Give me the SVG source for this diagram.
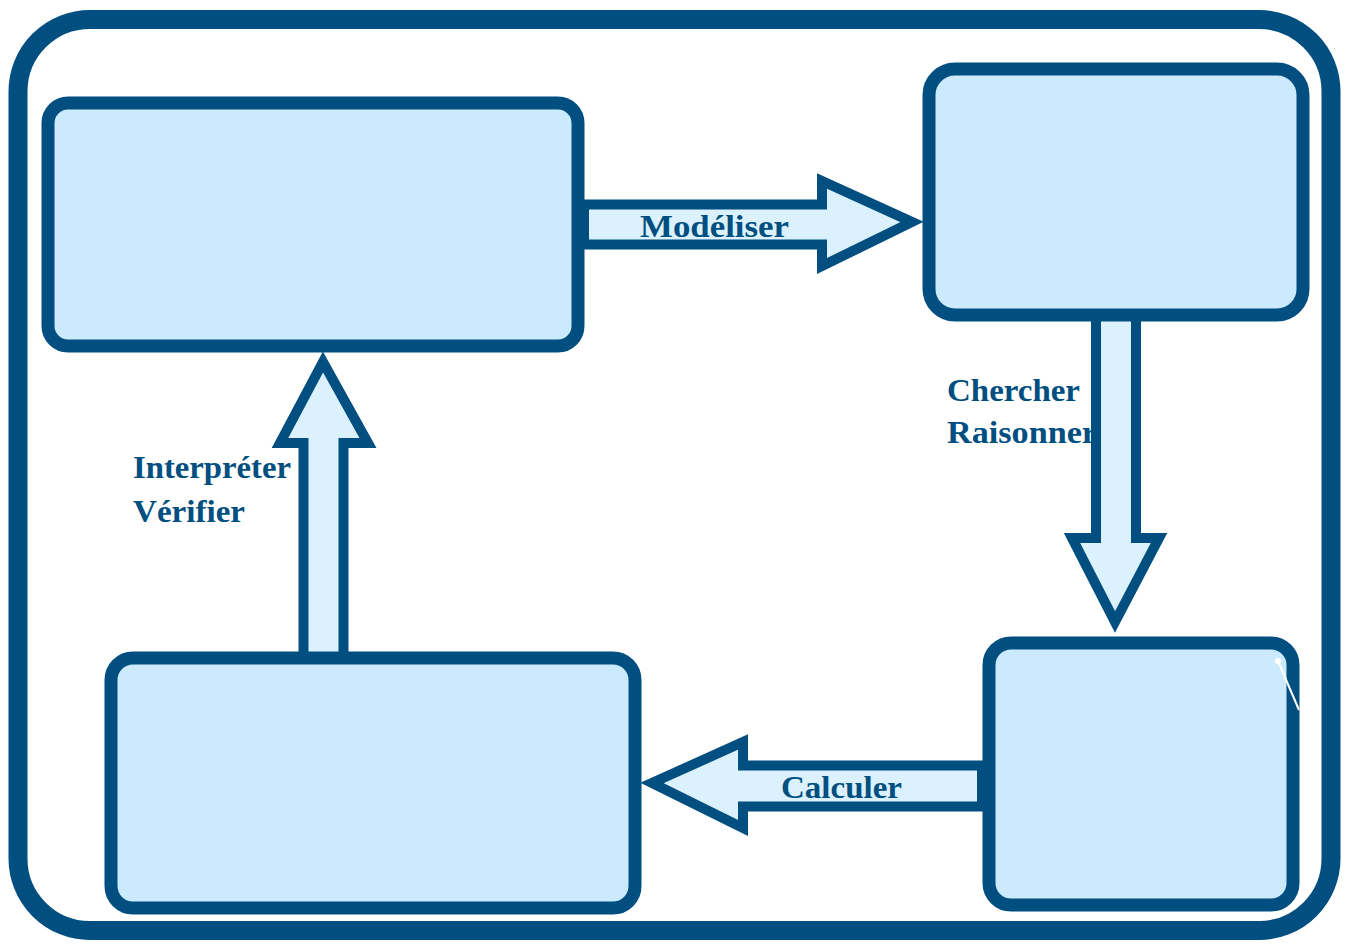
<svg xmlns="http://www.w3.org/2000/svg" width="1346" height="949" viewBox="0 0 1346 949">
<style>
.frame{fill:#ffffff;stroke:#004f80;stroke-width:19}
.node{fill:#cceafd;stroke:#004f80;stroke-width:13}
.arrow{fill:#dbf1fd;stroke:#004f80;stroke-width:10;stroke-linejoin:miter;stroke-miterlimit:10}
.lbl{font-family:"Liberation Serif","DejaVu Serif",serif;font-weight:bold;font-size:32px;fill:#004f80}
</style>
<rect class="frame" x="18" y="19.5" width="1313" height="911" rx="72" ry="72"/>
<g id="connectors">
<text class="lbl" x="947" y="401" textLength="133" lengthAdjust="spacingAndGlyphs">Chercher</text>
<text class="lbl" x="947" y="443" textLength="150" lengthAdjust="spacingAndGlyphs">Raisonner</text>
<text class="lbl" x="133" y="478" textLength="158" lengthAdjust="spacingAndGlyphs">Interpréter</text>
<text class="lbl" x="133" y="522" textLength="112" lengthAdjust="spacingAndGlyphs">Vérifier</text>
<polygon id="arrow-modeliser" class="arrow" points="584,204.5 822,204.5 822,181 912,222 822,266 822,244.5 584,244.5"/>
<polygon id="arrow-chercher" class="arrow" points="1096,315 1096,538 1072,538 1115,622 1159,538 1136,538 1136,315"/>
<polygon id="arrow-calculer" class="arrow" points="982,765.5 743,765.5 743,742 652,783 743,828 743,806.5 982,806.5"/>
<polygon id="arrow-interpreter" class="arrow" points="303.5,658 303.5,443 280,443 323,362 368,443 343.5,443 343.5,658"/>
<text class="lbl" x="640" y="237" textLength="149" lengthAdjust="spacingAndGlyphs">Modéliser</text>
<text class="lbl" x="781" y="798" textLength="121" lengthAdjust="spacingAndGlyphs">Calculer</text>
</g>
<g id="node-top-left"><rect class="node" x="48" y="103" width="530" height="243" rx="20" ry="20"/></g>
<g id="node-top-right"><rect class="node" x="929" y="69" width="374" height="246" rx="26" ry="26"/></g>
<g id="node-bottom-right"><rect class="node" x="989" y="643" width="304" height="262" rx="22" ry="22"/>
<line x1="1278" y1="661" x2="1299" y2="710" stroke="#ffffff" stroke-width="2"/>
<circle cx="1278" cy="661" r="3" fill="#ffffff"/></g>
<g id="node-bottom-left"><rect class="node" x="111" y="658" width="524" height="250" rx="22" ry="22"/></g>
</svg>
